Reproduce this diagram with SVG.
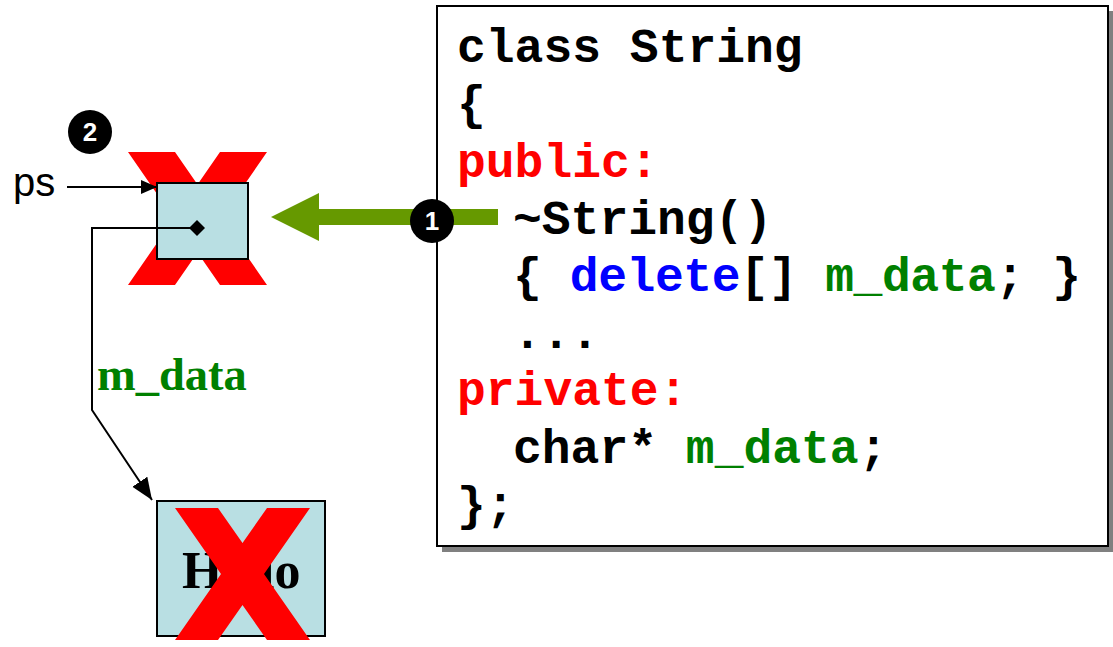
<svg xmlns="http://www.w3.org/2000/svg" width="1113" height="647" viewBox="0 0 1113 647">
<style>
.code{font-family:"Liberation Mono","Courier New",monospace;font-weight:bold;font-size:48px;fill:#000}
.red{fill:#ff0000}.blue{fill:#0000ff}.grn{fill:#008000}
.cell{fill:#b9dfe3;stroke:#000;stroke-width:2}
.xmark{fill:#ff0000}
.badge circle{fill:#000}
.badge text{font-family:"Liberation Sans",Arial,sans-serif;font-weight:bold;font-size:26px;fill:#fff;text-anchor:middle}
.wire{fill:none;stroke:#000;stroke-width:2}
</style>
<defs>
<marker id="ahBig" markerUnits="userSpaceOnUse" markerWidth="24" markerHeight="20" refX="22" refY="9" orient="auto"><path d="M0,0 L22,9 L0,18 z" fill="#000"/></marker>
<marker id="ahSmall" markerUnits="userSpaceOnUse" markerWidth="18" markerHeight="16" refX="16" refY="7" orient="auto"><path d="M0,0 L16,7 L0,14 z" fill="#000"/></marker>
<marker id="dia" markerUnits="userSpaceOnUse" markerWidth="16" markerHeight="16" refX="8" refY="8" orient="auto"><path d="M0,8 L8,0 L16,8 L8,16 z" fill="#000"/></marker>
</defs>
<rect width="1113" height="647" fill="#fff"/>

<g id="code-box">
<rect x="442" y="11" width="671" height="541" fill="#808080"/>
<rect x="437" y="6" width="671" height="540" fill="#fff" stroke="#000" stroke-width="2"/>
<text class="code" x="457" y="62">class String</text>
<text class="code" x="457" y="119">{</text>
<text class="code red" x="457" y="177">public:</text>
<text class="code" x="513" y="234">~String()</text>
<text class="code" x="513" y="291" textLength="568" lengthAdjust="spacing">{ <tspan class="blue">delete</tspan>[] <tspan class="grn">m_data</tspan>; }</text>
<text class="code" x="513" y="348">...</text>
<text class="code red" x="457" y="405">private:</text>
<text class="code" x="513" y="463">char* <tspan class="grn">m_data</tspan>;</text>
<text class="code" x="457" y="520">};</text>
</g>

<g id="ps-label">
<text x="13" y="196" font-family="Liberation Sans,Arial,sans-serif" font-size="40" fill="#000">ps</text>
</g>

<g id="string-object">
<polygon class="xmark" points="128,152 175,152 197.5,184.5 220,152 267,152 221,218.5 267,285 220,285 197.5,252.5 175,285 128,285 174,218.5"/>
<rect class="cell" x="157" y="183" width="91" height="76"/>
</g>

<g id="hello-buffer">
<rect class="cell" x="157" y="501" width="168" height="135"/>
<text x="182" y="588" font-family="Liberation Serif,'Times New Roman',serif" font-weight="bold" font-size="52" fill="#000">Hello</text>
<polygon class="xmark" points="175,508 218,508 242.5,543 267,508 310,508 264,574 310,640 267,640 242.5,605 218,640 175,640 221,574"/>
</g>

<g id="m-data-label">
<text x="97" y="390" font-family="Liberation Serif,'Times New Roman',serif" font-weight="bold" font-size="46.5" fill="#008000">m_data</text>
</g>

<g id="connectors">
<line class="wire" x1="67" y1="187" x2="157" y2="187" marker-end="url(#ahSmall)"/>
<path class="wire" d="M197,228 L92,228 L92,410 L152,500" marker-start="url(#dia)" marker-end="url(#ahBig)"/>
<polygon points="498,209 319,209 319,193 271,217 319,241 319,225 498,225" fill="#669900"/>
</g>

<g id="badge-1" class="badge">
<circle cx="432" cy="221" r="22"/>
<text x="432" y="230">1</text>
</g>
<g id="badge-2" class="badge">
<circle cx="90" cy="132" r="22"/>
<text x="90" y="141">2</text>
</g>
</svg>
